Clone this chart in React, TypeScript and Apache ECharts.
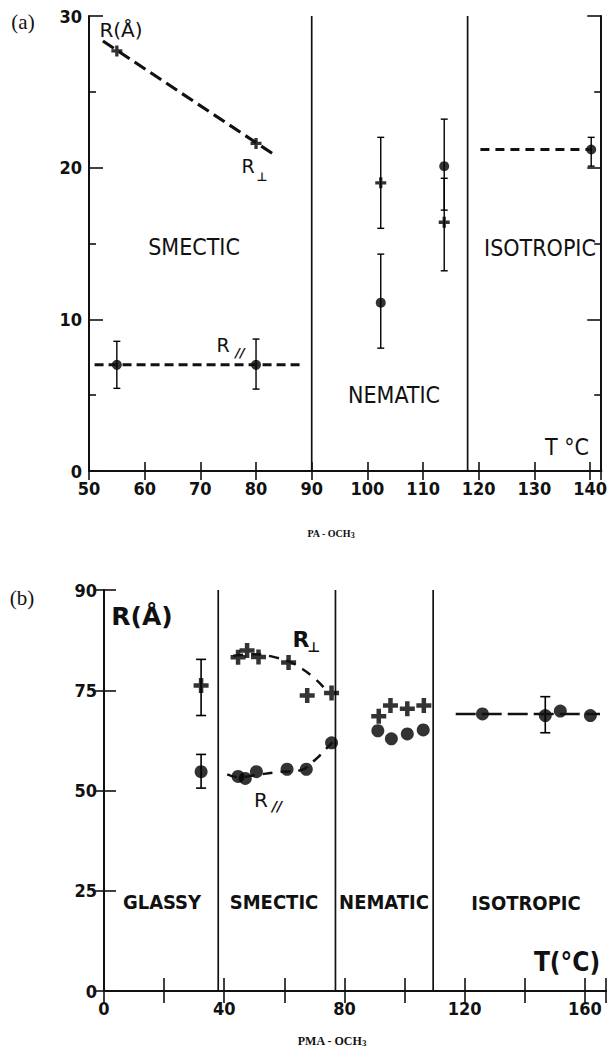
import React, { useEffect, useRef } from "react";
import * as echarts from "echarts";

// ---------- (a) PA - OCH3 ----------
const PA_CROSS = [[55, 27.7], [80, 21.6], [102.4, 19.0], [113.8, 16.4]];
const PA_DOT = [[55, 7.0], [80, 7.0], [102.4, 11.1], [113.8, 20.1], [140.2, 21.2]];
const PA_ERR = [
  [55, 5.45, 8.55], [80, 5.4, 8.7], [102.4, 16.0, 22.0], [102.4, 8.1, 14.3],
  [113.8, 17.2, 23.2], [113.8, 13.2, 19.3], [140.2, 20.1, 22.0],
];
const PA_PERP_FIT = [[52.5, 28.35], [83.5, 20.8]];
const PA_PAR_FIT = [[51, 7.0], [88, 7.0]];
const PA_ISO_FIT = [[120.3, 21.2], [140.2, 21.2]];
const PA_PHASES = [[90, 0], [118, 0]];

// ---------- (b) PMA - OCH3 ----------
const PMA_CROSS = [
  [32.3, 76.2], [44.6, 83.2], [47.6, 84.9], [51.4, 83.3], [61.4, 81.9], [67.6, 73.7], [75.7, 74.3],
  [91.4, 68.5], [95.3, 71.2], [100.9, 70.4], [106.4, 71.2],
];
const PMA_DOT = [
  [32.3, 54.7], [44.6, 53.5], [47.0, 53.0], [50.7, 54.7], [60.9, 55.3], [67.3, 55.3], [75.7, 61.9],
  [91.1, 64.9], [95.6, 62.9], [100.9, 64.1], [106.2, 65.1],
  [125.9, 69.1], [146.8, 68.7], [151.8, 69.8], [161.8, 68.7],
];
const PMA_ERR = [[32.3, 68.7, 82.7], [32.3, 50.6, 59.0], [146.8, 64.4, 73.4]];
const PMA_PERP_FIT = [[43, 83.6], [50, 84.0], [57, 83.2], [62, 82.0], [66, 80.3], [70, 78.0], [73, 75.8]];
const PMA_PAR_FIT = [[41, 54.0], [45, 53.3], [50, 53.8], [58, 54.6], [65, 55.0], [70, 57.5], [74, 60.5], [76, 62.0]];
const PMA_ISO_FIT = [[117, 69.1], [165, 69.1]];
const PMA_PHASES = [[38, 0], [77, 0], [109.5, 0]];

const NUM_FONT = "'Liberation Sans Narrow', 'DejaVu Sans Condensed', sans-serif";
const TXT_FONT = "'DejaVu Sans Condensed', 'DejaVu Sans', sans-serif";
const CROSS = "path://M3.5,0H6.5V3.5H10V6.5H6.5V10H3.5V6.5H0V3.5H3.5Z";

function errRender(cap: number, lw: number) {
  return (params: any, api: any) => {
    const x = api.value(0);
    const lo = api.coord([x, api.value(1)]);
    const hi = api.coord([x, api.value(2)]);
    const st = { stroke: "#000", lineWidth: lw };
    return {
      type: "group",
      children: [
        { type: "line", shape: { x1: lo[0], y1: lo[1], x2: hi[0], y2: hi[1] }, style: st },
        { type: "line", shape: { x1: lo[0] - cap, y1: lo[1], x2: lo[0] + cap, y2: lo[1] }, style: st },
        { type: "line", shape: { x1: hi[0] - cap, y1: hi[1], x2: hi[0] + cap, y2: hi[1] }, style: st },
      ],
    };
  };
}

function phaseRender(params: any, api: any) {
  const cs = params.coordSys;
  const p = api.coord([api.value(0), api.value(1)]);
  return {
    type: "line",
    shape: { x1: p[0], y1: cs.y, x2: p[0], y2: cs.y + cs.height },
    style: { stroke: "#111", lineWidth: 1.7 },
  };
}

function txt(text: string, x: number, y: number, size: number, extra: any = {}) {
  return {
    type: "text",
    x,
    y,
    style: {
      text,
      fontSize: size,
      fontFamily: TXT_FONT,
      fill: "#111",
      align: "center",
      verticalAlign: "middle",
      ...extra,
    },
  };
}

const axisLabelStyle = { fontFamily: NUM_FONT, fontWeight: "bold", fontSize: 18, color: "#111" };
const lineStyle = { color: "#111", width: 2 };
const tickStyle = { color: "#111", width: 1.6 };

export default function App() {
  const ref = useRef<HTMLDivElement>(null);
  useEffect(() => {
    document.body.style.margin = "0";
    const chart = echarts.init(ref.current!, null, { renderer: "svg" });
    const option: any = {
      animation: false,
      backgroundColor: "#fff",
      grid: [
        { left: 89, top: 16, width: 519, height: 455 },
        { left: 104, top: 590, width: 502, height: 401 },
      ],
      xAxis: [
        {
          gridIndex: 0, type: "value", min: 50, max: 142, interval: 10, position: "bottom",
          axisLine: { lineStyle }, splitLine: { show: false },
          axisTick: { inside: true, length: 9, lineStyle: tickStyle },
          axisLabel: { ...axisLabelStyle, margin: 8, formatter: (v: number) => (v % 10 === 0 ? String(v) : "") },
        },
        {
          gridIndex: 0, type: "value", min: 50, max: 142, interval: 10, position: "top",
          axisLine: { lineStyle }, splitLine: { show: false },
          axisTick: { inside: true, length: 9, lineStyle: tickStyle },
          axisLabel: { show: false },
        },
        {
          gridIndex: 1, type: "value", min: 0, max: 167, interval: 20, position: "bottom",
          axisLine: { lineStyle }, splitLine: { show: false },
          axisTick: { inside: true, length: 13, lineStyle: tickStyle },
          axisLabel: { ...axisLabelStyle, margin: 8, formatter: (v: number) => (v % 40 === 0 ? String(v) : "") },
        },
        {
          gridIndex: 1, type: "value", min: 0, max: 167, interval: 20, position: "top",
          axisLine: { lineStyle }, splitLine: { show: false },
          axisTick: { inside: true, length: 12, lineStyle: tickStyle },
          axisLabel: { show: false },
        },
      ],
      yAxis: [
        {
          gridIndex: 0, type: "value", min: 0, max: 30, interval: 10, position: "left",
          axisLine: { lineStyle }, splitLine: { show: false },
          axisTick: { inside: true, length: 14, lineStyle: tickStyle },
          minorTick: { show: true, splitNumber: 2, length: 7, lineStyle: tickStyle },
          minorSplitLine: { show: false },
          axisLabel: { ...axisLabelStyle, margin: 7 },
        },
        {
          gridIndex: 0, type: "value", min: 0, max: 30, interval: 10, position: "right",
          axisLine: { lineStyle }, splitLine: { show: false },
          axisTick: { inside: true, length: 14, lineStyle: tickStyle },
          minorTick: { show: true, splitNumber: 2, length: 7, lineStyle: tickStyle },
          minorSplitLine: { show: false },
          axisLabel: { show: false },
        },
        {
          gridIndex: 1, type: "value", min: 0, max: 100, interval: 25, position: "left",
          axisLine: { lineStyle }, splitLine: { show: false },
          axisTick: { inside: true, length: 12, lineStyle: tickStyle },
          axisLabel: { ...axisLabelStyle, margin: 7, formatter: (v: number) => (v === 100 ? "90" : String(v)) },
        },
        {
          gridIndex: 1, type: "value", min: 0, max: 100, interval: 25, position: "right",
          axisLine: { lineStyle }, splitLine: { show: false },
          axisTick: { inside: true, length: 10, lineStyle: tickStyle },
          axisLabel: { show: false },
        },
      ],
      series: [
        // ----- (a)
        { type: "custom", xAxisIndex: 0, yAxisIndex: 0, data: PA_PHASES, renderItem: phaseRender, encode: { x: 0, y: 1 }, silent: true },
        { type: "line", xAxisIndex: 0, yAxisIndex: 0, data: PA_PERP_FIT, symbol: "none", lineStyle: { color: "#111", width: 3.2, type: [13, 6] } },
        { type: "line", xAxisIndex: 0, yAxisIndex: 0, data: PA_PAR_FIT, symbol: "none", lineStyle: { color: "#111", width: 3, type: [9, 5] } },
        { type: "line", xAxisIndex: 0, yAxisIndex: 0, data: PA_ISO_FIT, symbol: "none", lineStyle: { color: "#111", width: 3, type: [9, 6] } },
        { type: "custom", xAxisIndex: 0, yAxisIndex: 0, data: PA_ERR, renderItem: errRender(3.5, 1.4), encode: { x: 0, y: [1, 2] } },
        { type: "scatter", xAxisIndex: 0, yAxisIndex: 0, data: PA_CROSS, symbol: CROSS, symbolSize: 11, itemStyle: { color: "#000" } },
        { type: "scatter", xAxisIndex: 0, yAxisIndex: 0, data: PA_DOT, symbol: "circle", symbolSize: 10, itemStyle: { color: "#000" } },
        // ----- (b)
        { type: "custom", xAxisIndex: 2, yAxisIndex: 2, data: PMA_PHASES, renderItem: phaseRender, encode: { x: 0, y: 1 }, silent: true },
        { type: "line", xAxisIndex: 2, yAxisIndex: 2, data: PMA_PERP_FIT, symbol: "none", smooth: true, lineStyle: { color: "#111", width: 2.5, type: [10, 8] } },
        { type: "line", xAxisIndex: 2, yAxisIndex: 2, data: PMA_PAR_FIT, symbol: "none", smooth: true, lineStyle: { color: "#111", width: 2.5, type: [10, 8] } },
        { type: "line", xAxisIndex: 2, yAxisIndex: 2, data: PMA_ISO_FIT, symbol: "none", lineStyle: { color: "#111", width: 2.5, type: [20, 6] } },
        { type: "custom", xAxisIndex: 2, yAxisIndex: 2, data: PMA_ERR, renderItem: errRender(5, 1.6), encode: { x: 0, y: [1, 2] } },
        { type: "scatter", xAxisIndex: 2, yAxisIndex: 2, data: PMA_CROSS, symbol: CROSS, symbolSize: 15, itemStyle: { color: "#000" } },
        { type: "scatter", xAxisIndex: 2, yAxisIndex: 2, data: PMA_DOT, symbol: "circle", symbolSize: 13, itemStyle: { color: "#000" } },
      ],
      graphic: [
        txt("(a)", 23, 22, 21, { fontFamily: "'Liberation Serif', serif" }),
        txt("(b)", 22, 598, 21, { fontFamily: "'Liberation Serif', serif" }),
        // (a) labels
        txt("R(Å)", 121, 30, 20, { fontFamily: "'DejaVu Sans', sans-serif" }),
        txt("R", 248, 166, 19, { fontFamily: "'DejaVu Sans', sans-serif" }),
        txt("⊥", 262, 177, 12, { fontFamily: "'DejaVu Sans', sans-serif", fontWeight: "bold" }),
        txt("R", 223, 345, 19, { fontFamily: "'DejaVu Sans', sans-serif" }),
        txt("//", 240, 352, 13, { fontFamily: "'DejaVu Sans', sans-serif", fontStyle: "italic", fontWeight: "bold" }),
        txt("SMECTIC", 194, 247, 23),
        txt("NEMATIC", 394, 395, 23),
        txt("ISOTROPIC", 540, 248, 23),
        txt("T °C", 567, 447, 23),
        {
          type: "text", x: 331, y: 533,
          style: {
            text: "PA - OCH{s|3}", fontSize: 10, fontWeight: "bold", fontFamily: "'Liberation Serif', serif",
            fill: "#111", align: "center", verticalAlign: "middle",
            rich: { s: { fontSize: 8, fontWeight: "bold", fontFamily: "'Liberation Serif', serif", verticalAlign: "bottom", padding: [4, 0, 0, 0] } },
          },
        },
        // (b) labels
        txt("R(Å)", 142, 616, 25, { fontFamily: "'DejaVu Sans', sans-serif", fontWeight: "bold" }),
        txt("R", 301, 639, 22, { fontFamily: "'DejaVu Sans', sans-serif", fontWeight: "bold" }),
        txt("⊥", 314, 647, 14, { fontFamily: "'DejaVu Sans', sans-serif", fontWeight: "bold" }),
        txt("R", 261, 800, 20, { fontFamily: "'DejaVu Sans', sans-serif" }),
        txt("//", 277, 806, 14, { fontFamily: "'DejaVu Sans', sans-serif", fontStyle: "italic", fontWeight: "bold" }),
        txt("GLASSY", 162, 902, 20, { fontWeight: "bold" }),
        txt("SMECTIC", 274, 902, 20, { fontWeight: "bold" }),
        txt("NEMATIC", 384, 902, 20, { fontWeight: "bold" }),
        txt("ISOTROPIC", 526, 903, 20, { fontWeight: "bold" }),
        txt("T(°C)", 567, 962, 26, { fontWeight: "bold" }),
        {
          type: "text", x: 332, y: 1041,
          style: {
            text: "PMA - OCH{s|3}", fontSize: 12, fontWeight: "bold", fontFamily: "'Liberation Serif', serif",
            fill: "#111", align: "center", verticalAlign: "middle",
            rich: { s: { fontSize: 9, fontWeight: "bold", fontFamily: "'Liberation Serif', serif", verticalAlign: "bottom", padding: [4, 0, 0, 0] } },
          },
        },
      ],
    };
    chart.setOption(option);
    return () => chart.dispose();
  }, []);
  return <div ref={ref} style={{ width: 610, height: 1050 }} />;
}
